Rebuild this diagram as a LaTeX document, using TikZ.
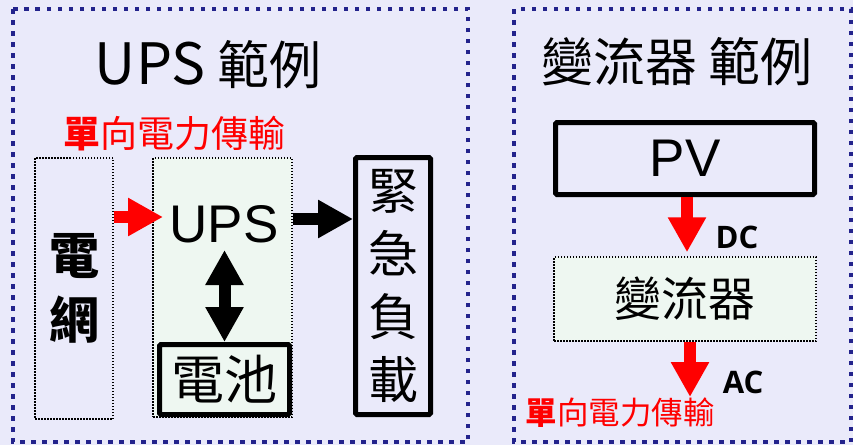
\documentclass[tikz,border=0pt]{standalone}
\usepackage{fontspec}
\setmainfont{Noto Sans CJK TC}
\newfontfamily\arialfont{Liberation Sans}
\newfontfamily\opensans{Open Sans}
\usetikzlibrary{arrows.meta}
\definecolor{bgcol}{RGB}{234,234,250}
\definecolor{greenfill}{RGB}{238,247,241}
\definecolor{navy}{RGB}{35,35,140}
\definecolor{pured}{RGB}{255,0,0}
\newcommand{\fs}[1]{\fontsize{#1}{#1}\selectfont}
\begin{document}
\begin{tikzpicture}[x=1pt,y=-1pt,
  frame/.style={draw=navy,line width=4.5pt,dash pattern=on 4.5pt off 6.5pt},
  dotbox/.style={draw=black,line width=1.5pt,dash pattern=on 1.5pt off 1.5pt,inner sep=0pt},
  thickbox/.style={draw=black,line width=5pt,rounded corners=1.5pt,inner sep=0pt},
  redarrow/.style={draw=pured,line width=12pt,-{Triangle[length=35pt,width=36pt]}},
  blackarrow/.style={draw=black,line width=12pt,-{Triangle[length=35pt,width=36pt]}},
  blackdouble/.style={draw=black,line width=12pt,{Triangle[length=35pt,width=36pt]}-{Triangle[length=35pt,width=36pt]}},
  lbl/.style={inner sep=0pt,outer sep=0pt}]
\fill[bgcol] (0,0) rectangle (853,445);
\useasboundingbox (0,0) rectangle (853,445);
% frames
\draw[frame] (13,9) rectangle (468,442);
\draw[frame] (514,9) rectangle (851,442);
% titles
\node[lbl,font=\fs{52}] (t1) at (208,65) {{\fs{57}UPS}\ 範例};
\node[lbl,font=\fs{52}] (t2) at (677,62) {變流器 範例};
% red labels
\node[lbl,text=pured,font=\fs{37}] (uni1) at (174,134) {\textbf{單}向電力傳輸};
\node[lbl,text=pured,font=\fs{31.5}] (uni2) at (620,413) {\textbf{單}向電力傳輸};
% left diagram
\node[dotbox,minimum width=78pt,minimum height=261pt,align=center,font=\bfseries\fontsize{50}{64}\selectfont] (grid) at (74,288.5) {電\\網};
\node[dotbox,fill=greenfill,minimum width=139pt,minimum height=259pt] (upsbox) at (222.5,287.5) {};
\node[lbl,font=\arialfont\fs{53}] (upslabel) at (224,224) {UPS};
\node[thickbox,minimum width=130pt,minimum height=70pt,font=\fs{53}] (battery) at (224.5,379.5) {電池};
\node[thickbox,minimum width=75pt,minimum height=257pt,align=center,font=\fontsize{50}{63}\selectfont] (load) at (393,286) {緊\\急\\負\\載};
\coordinate (a1e) at (163,217);
\coordinate (a2) at (322,219);
\coordinate (dtop) at (224,250);
\draw[redarrow] (grid.east |- a1e) -- (a1e);
\draw[blackarrow] (upsbox.east |- a2) -- (load.west |- a2);
\draw[blackdouble] (battery.north |- dtop) -- (battery.north);
% right diagram
\node[thickbox,minimum width=259pt,minimum height=72pt,font=\arialfont\fs{53}] (pv) at (685,158.5) {PV};
\node[dotbox,fill=greenfill,minimum width=262pt,minimum height=84pt,font=\fs{47}] (inv) at (685,299) {變流器};
\coordinate (acend) at (690,397);
\draw[redarrow] ([xshift=2pt]pv.south) -- ([xshift=2pt,yshift=4pt]inv.north);
\draw[redarrow] (inv.south -| acend) -- (acend);
\node[lbl,font=\opensans\bfseries\fs{31}] (dc) at (737,237) {DC};
\node[lbl,font=\opensans\bfseries\fs{31}] (ac) at (743,382) {AC};
\end{tikzpicture}
\end{document}
